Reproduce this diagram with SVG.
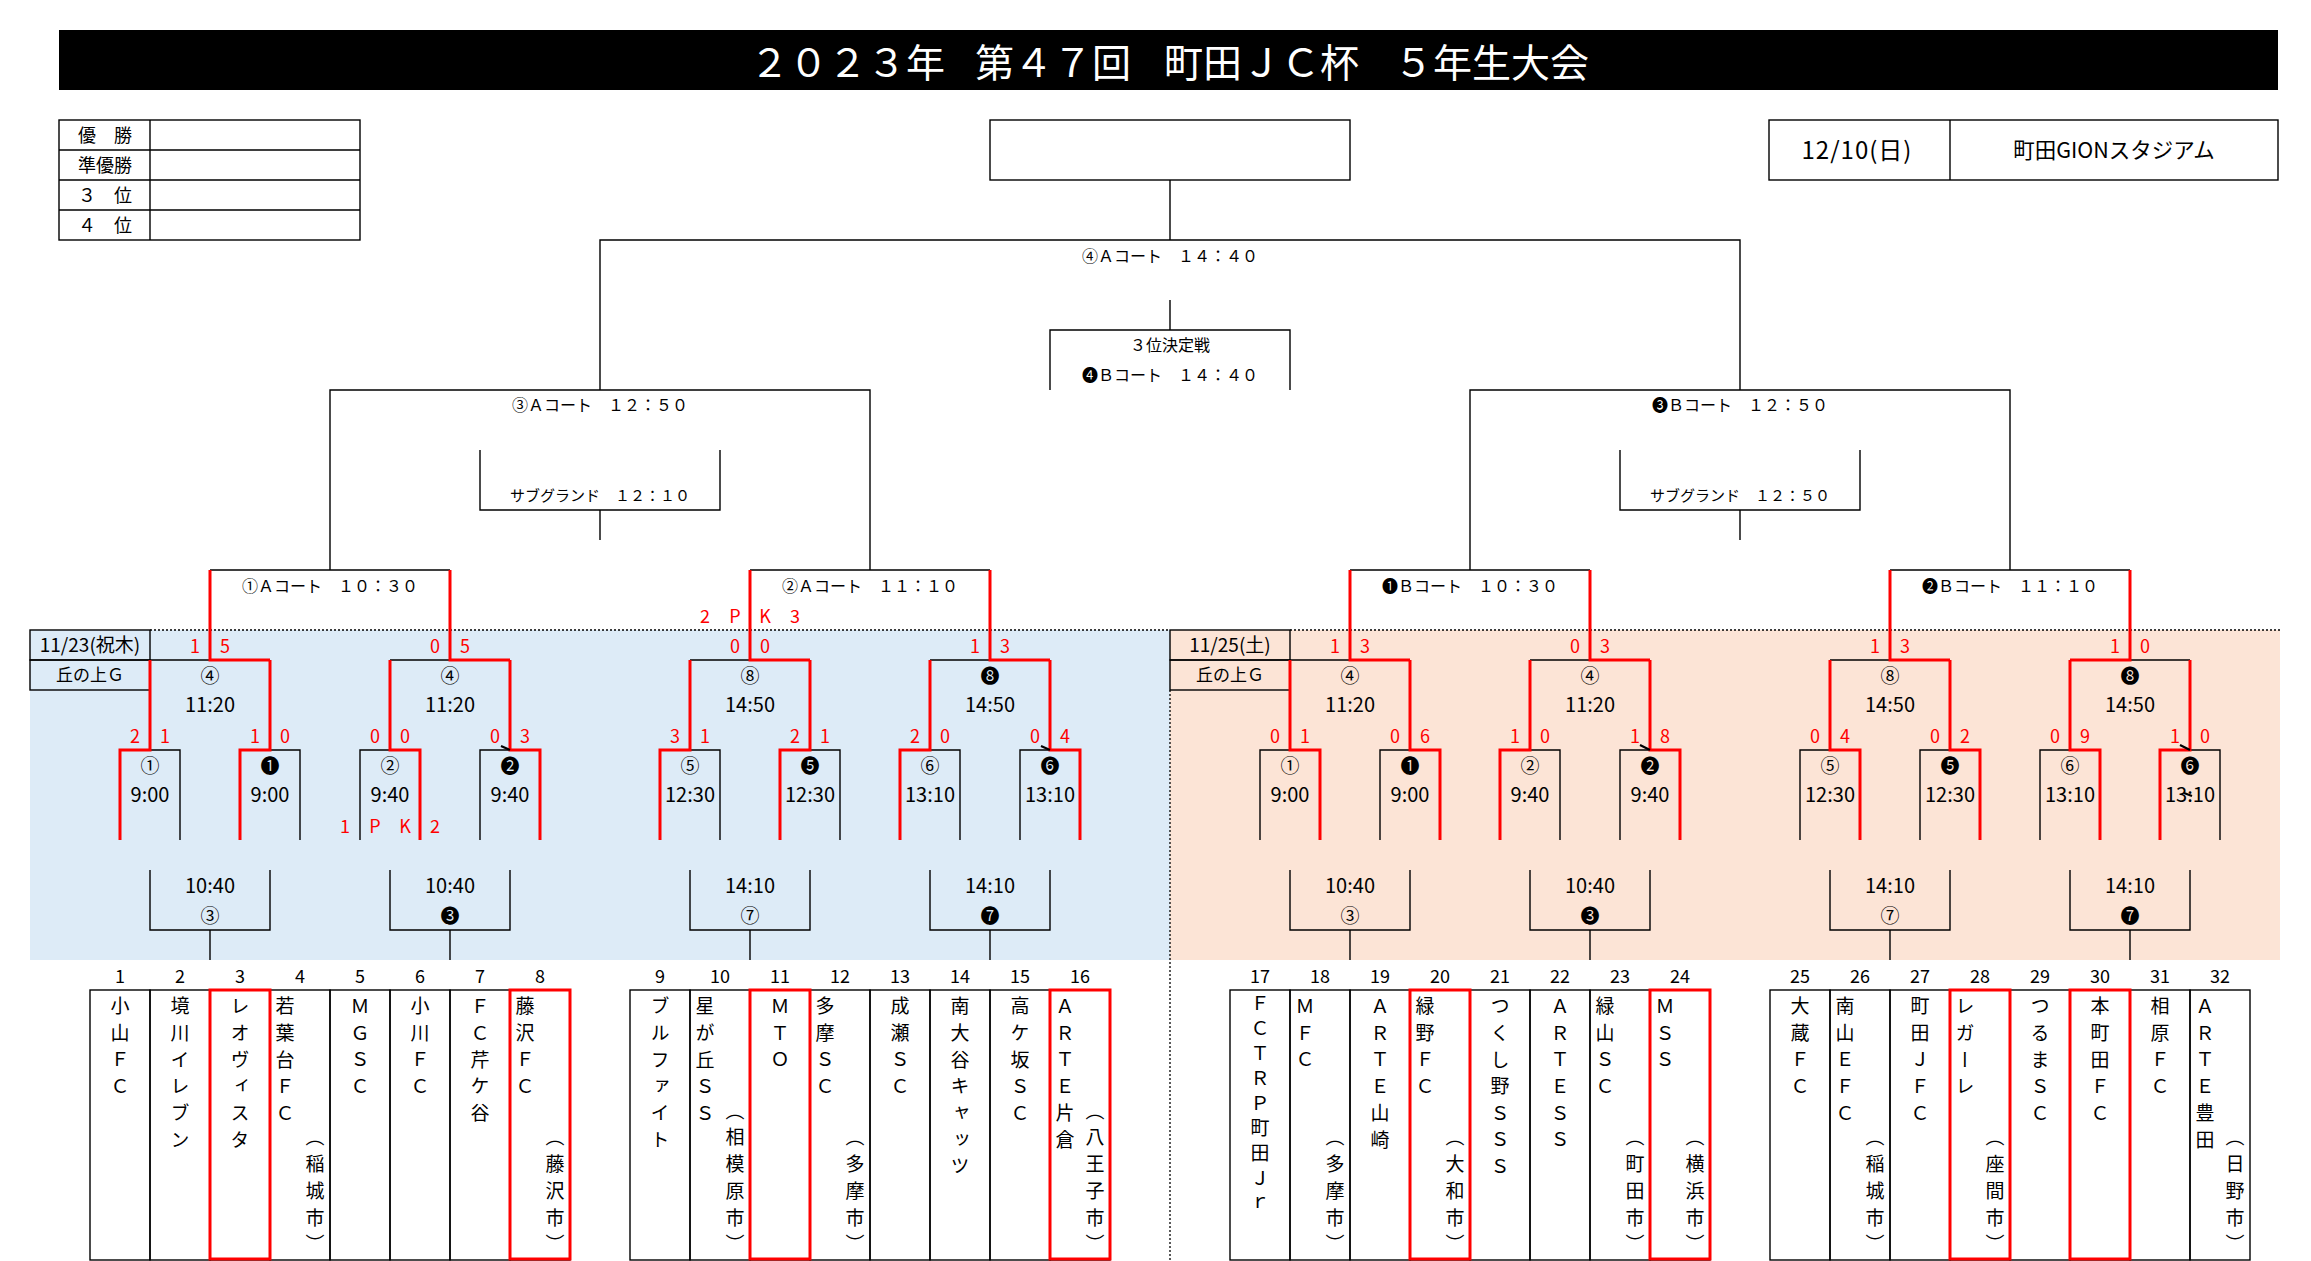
<svg xmlns="http://www.w3.org/2000/svg" width="2311" height="1261" viewBox="0 0 2311 1261">
<style>
text{font-family:"Noto Sans CJK JP","Noto Sans",sans-serif;fill:#000}
.bk{fill:none;stroke:#000;stroke-width:1.4}
.rd{fill:none;stroke:#f00;stroke-width:3}
.dot{fill:none;stroke:#000;stroke-width:1.3;stroke-dasharray:2 2}
.cell{fill:none;stroke:#000;stroke-width:1.4}
.win{fill:none;stroke:#f00;stroke-width:3}
.tick{stroke:#000;stroke-width:2.2}
.tm{font-size:20px;text-anchor:middle}
.ci{font-size:19px;text-anchor:middle}
.sc{font-size:18px;fill:#f00;text-anchor:middle}
.lb{font-size:16px;text-anchor:middle}
.sb{font-size:15px;text-anchor:middle}
.num{font-size:18px;text-anchor:middle}
.vt{font-size:19px;writing-mode:vertical-rl;letter-spacing:7.7px}
.vt9{font-size:19px;writing-mode:vertical-rl;letter-spacing:6px}
</style>
<rect width="2311" height="1261" fill="#fff"/>
<rect x="30" y="630" width="1140" height="330" fill="#DDEBF7"/>
<rect x="1170" y="630" width="1110" height="330" fill="#FCE4D6"/>

<g id="title">
<rect x="59" y="30" width="2219" height="60" fill="#000"/>
<text y="77" style="font-size:39px;fill:#fff"><tspan x="750">２０２３年 </tspan><tspan x="975">第４７回 </tspan><tspan x="1164">町田ＪＣ杯 </tspan><tspan x="1394">５年生大会</tspan></text>
</g>

<g id="results">
<rect class="cell" x="59" y="120" width="301" height="120"/>
<path class="bk" d="M59,150H360M59,180H360M59,210H360M150,120V240"/>
<text x="105" y="141.5" style="font-size:18px;text-anchor:middle">優　勝</text>
<text x="105" y="171.5" style="font-size:18px;text-anchor:middle">準優勝</text>
<text x="105" y="201.5" style="font-size:18px;text-anchor:middle">３　位</text>
<text x="105" y="231.5" style="font-size:18px;text-anchor:middle">４　位</text>
</g>

<g id="final">
<rect class="cell" x="990" y="120" width="360" height="60"/>
</g>

<g id="venue">
<rect class="cell" x="1769" y="120" width="509" height="60"/>
<path class="bk" d="M1950,120V180"/>
<text x="1857" y="159" style="font-size:24px;letter-spacing:1px;text-anchor:middle">12/10(日)</text>
<text x="2114" y="158" style="font-size:21.5px;text-anchor:middle">町田GIONスタジアム</text>
</g>

<g id="day1">
<rect class="cell" x="30" y="630" width="120" height="30"/>
<rect class="cell" x="30" y="660" width="120" height="30"/>
<text x="90" y="652" style="font-size:19px;text-anchor:middle">11/23(祝木)</text>
<text x="90" y="681" style="font-size:17px;text-anchor:middle">丘の上Ｇ</text>
</g>
<g id="day2">
<rect class="cell" x="1170" y="630" width="120" height="30"/>
<rect class="cell" x="1170" y="660" width="120" height="30"/>
<text x="1230" y="652" style="font-size:19px;text-anchor:middle">11/25(土)</text>
<text x="1230" y="681" style="font-size:17px;text-anchor:middle">丘の上Ｇ</text>
</g>

<g id="connectors">
<path class="dot" d="M150,630H1170M1290,630H2280M1170,690V1260"/>
<path class="bk" d="M1170,180V240M600,390V240H1740V390"/>
<path class="bk" d="M1170,300V330M1050,390V330H1290V390"/>
<path class="bk" d="M330,570V390H870V570M1470,570V390H2010V570"/>
<path class="bk" d="M480,450V510H720V450M600,510V540M1620,450V510H1860V450M1740,510V540"/>
<path class="bk" d="M210,570H450M750,570H990M1350,570H1590M1890,570H2130"/>
<path class="bk" d="M180,840V750H150M300,840V750H270M360,840V750H390M480,840V750H510M150,660H210M390,660H450"/>
<path class="bk" d="M720,840V750H690M840,840V750H810M960,840V750H930M1020,840V750H1050M690,660H750M930,660H990"/>
<path class="bk" d="M1260,840V750H1290M1380,840V750H1410M1560,840V750H1530M1620,840V750H1650M1290,660H1350M1530,660H1590"/>
<path class="bk" d="M1800,840V750H1830M1920,840V750H1950M2040,840V750H2070M2220,840V750H2190M1830,660H1890M2190,660H2130"/>
<path class="bk" d="M150,870V930H270V870M210,930V960M390,870V930H510V870M450,930V960"/>
<path class="bk" d="M690,870V930H810V870M750,930V960M930,870V930H1050V870M990,930V960"/>
<path class="bk" d="M1290,870V930H1410V870M1350,930V960M1530,870V930H1650V870M1590,930V960"/>
<path class="bk" d="M1830,870V930H1950V870M1890,930V960M2070,870V930H2190V870M2130,930V960"/>
<path class="rd" d="M120,840V750H150V660M240,840V750H270V660M420,840V750H390V660M540,840V750H510V660M270,660H210V570M510,660H450V570"/>
<path class="rd" d="M660,840V750H690V660M780,840V750H810V660M900,840V750H930V660M1080,840V750H1050V660M810,660H750V570M1050,660H990V570"/>
<path class="rd" d="M1320,840V750H1290V660M1440,840V750H1410V660M1500,840V750H1530V660M1680,840V750H1650V660M1410,660H1350V570M1650,660H1590V570"/>
<path class="rd" d="M1860,840V750H1830V660M1980,840V750H1950V660M2100,840V750H2070V660M2160,840V750H2190V660M1950,660H1890V570M2070,660H2130V570"/>
<path class="tick" d="M501,746L510,750M1041,746L1050,750M1640,745L1650,750M2180,745L2190,750M2184,793L2192,796"/>
</g>

<g id="m-final"><text class="lb" x="1170" y="262">④Ａコート　１４：４０</text></g>
<g id="m-third"><text class="lb" x="1170" y="351">３位決定戦</text><text class="lb" x="1170" y="381">❹Ｂコート　１４：４０</text></g>
<g id="m-sf-a"><text class="lb" x="600" y="411">③Ａコート　１２：５０</text></g>
<g id="m-sf-b"><text class="lb" x="1740" y="411">❸Ｂコート　１２：５０</text></g>
<g id="m-sub-a"><text class="sb" x="600" y="501">サブグランド　１２：１０</text></g>
<g id="m-sub-b"><text class="sb" x="1740" y="501">サブグランド　１２：５０</text></g>
<g id="m-qf1"><text class="lb" x="330" y="592">①Ａコート　１０：３０</text></g>
<g id="m-qf2"><text class="lb" x="870" y="592">②Ａコート　１１：１０</text></g>
<g id="m-qf3"><text class="lb" x="1470" y="592">❶Ｂコート　１０：３０</text></g>
<g id="m-qf4"><text class="lb" x="2010" y="592">❷Ｂコート　１１：１０</text></g>

<g id="q1-r2a"><text class="ci" x="210" y="683">④</text><text class="tm" x="210" y="712">11:20</text><text class="sc" x="195 225" y="652.5">15</text></g>
<g id="q1-r2b"><text class="ci" x="450" y="683">④</text><text class="tm" x="450" y="712">11:20</text><text class="sc" x="435 465" y="652.5">05</text></g>
<g id="q1-r1a"><text class="ci" x="150" y="773">①</text><text class="tm" x="150" y="802">9:00</text><text class="sc" x="135 165" y="742.5">21</text></g>
<g id="q1-r1b"><text class="ci" x="270" y="773">❶</text><text class="tm" x="270" y="802">9:00</text><text class="sc" x="255 285" y="742.5">10</text></g>
<g id="q1-r1c"><text class="ci" x="390" y="773">②</text><text class="tm" x="390" y="802">9:40</text><text class="sc" x="375 405" y="742.5">00</text><text class="sc" x="345 375 405 435" y="832.5">1PK2</text></g>
<g id="q1-r1d"><text class="ci" x="510" y="773">❷</text><text class="tm" x="510" y="802">9:40</text><text class="sc" x="495 525" y="742.5">03</text></g>
<g id="q1-c1"><text class="tm" x="210" y="893">10:40</text><text class="ci" x="210" y="923">③</text></g>
<g id="q1-c2"><text class="tm" x="450" y="893">10:40</text><text class="ci" x="450" y="923">❸</text></g>

<g id="q2-r2a"><text class="ci" x="750" y="683">⑧</text><text class="tm" x="750" y="712">14:50</text><text class="sc" x="735 765" y="652.5">00</text><text class="sc" x="705 735 765 795" y="622.5">2PK3</text></g>
<g id="q2-r2b"><text class="ci" x="990" y="683">❽</text><text class="tm" x="990" y="712">14:50</text><text class="sc" x="975 1005" y="652.5">13</text></g>
<g id="q2-r1a"><text class="ci" x="690" y="773">⑤</text><text class="tm" x="690" y="802">12:30</text><text class="sc" x="675 705" y="742.5">31</text></g>
<g id="q2-r1b"><text class="ci" x="810" y="773">❺</text><text class="tm" x="810" y="802">12:30</text><text class="sc" x="795 825" y="742.5">21</text></g>
<g id="q2-r1c"><text class="ci" x="930" y="773">⑥</text><text class="tm" x="930" y="802">13:10</text><text class="sc" x="915 945" y="742.5">20</text></g>
<g id="q2-r1d"><text class="ci" x="1050" y="773">❻</text><text class="tm" x="1050" y="802">13:10</text><text class="sc" x="1035 1065" y="742.5">04</text></g>
<g id="q2-c1"><text class="tm" x="750" y="893">14:10</text><text class="ci" x="750" y="923">⑦</text></g>
<g id="q2-c2"><text class="tm" x="990" y="893">14:10</text><text class="ci" x="990" y="923">❼</text></g>

<g id="q3-r2a"><text class="ci" x="1350" y="683">④</text><text class="tm" x="1350" y="712">11:20</text><text class="sc" x="1335 1365" y="652.5">13</text></g>
<g id="q3-r2b"><text class="ci" x="1590" y="683">④</text><text class="tm" x="1590" y="712">11:20</text><text class="sc" x="1575 1605" y="652.5">03</text></g>
<g id="q3-r1a"><text class="ci" x="1290" y="773">①</text><text class="tm" x="1290" y="802">9:00</text><text class="sc" x="1275 1305" y="742.5">01</text></g>
<g id="q3-r1b"><text class="ci" x="1410" y="773">❶</text><text class="tm" x="1410" y="802">9:00</text><text class="sc" x="1395 1425" y="742.5">06</text></g>
<g id="q3-r1c"><text class="ci" x="1530" y="773">②</text><text class="tm" x="1530" y="802">9:40</text><text class="sc" x="1515 1545" y="742.5">10</text></g>
<g id="q3-r1d"><text class="ci" x="1650" y="773">❷</text><text class="tm" x="1650" y="802">9:40</text><text class="sc" x="1635 1665" y="742.5">18</text></g>
<g id="q3-c1"><text class="tm" x="1350" y="893">10:40</text><text class="ci" x="1350" y="923">③</text></g>
<g id="q3-c2"><text class="tm" x="1590" y="893">10:40</text><text class="ci" x="1590" y="923">❸</text></g>

<g id="q4-r2a"><text class="ci" x="1890" y="683">⑧</text><text class="tm" x="1890" y="712">14:50</text><text class="sc" x="1875 1905" y="652.5">13</text></g>
<g id="q4-r2b"><text class="ci" x="2130" y="683">❽</text><text class="tm" x="2130" y="712">14:50</text><text class="sc" x="2115 2145" y="652.5">10</text></g>
<g id="q4-r1a"><text class="ci" x="1830" y="773">⑤</text><text class="tm" x="1830" y="802">12:30</text><text class="sc" x="1815 1845" y="742.5">04</text></g>
<g id="q4-r1b"><text class="ci" x="1950" y="773">❺</text><text class="tm" x="1950" y="802">12:30</text><text class="sc" x="1935 1965" y="742.5">02</text></g>
<g id="q4-r1c"><text class="ci" x="2070" y="773">⑥</text><text class="tm" x="2070" y="802">13:10</text><text class="sc" x="2055 2085" y="742.5">09</text></g>
<g id="q4-r1d"><text class="ci" x="2190" y="773">❻</text><text class="tm" x="2190" y="802">13:10</text><text class="sc" x="2175 2205" y="742.5">10</text></g>
<g id="q4-c1"><text class="tm" x="1890" y="893">14:10</text><text class="ci" x="1890" y="923">⑦</text></g>
<g id="q4-c2"><text class="tm" x="2130" y="893">14:10</text><text class="ci" x="2130" y="923">❼</text></g>

<g id="team-1"><text class="num" x="120" y="982.5">1</text><rect class="cell" x="90" y="990" width="60" height="270"/><text class="vt" x="120" y="996.5">小山ＦＣ</text></g>
<g id="team-2"><text class="num" x="180" y="982.5">2</text><rect class="cell" x="150" y="990" width="60" height="270"/><text class="vt" x="180" y="996.5">境川イレブン</text></g>
<g id="team-3"><text class="num" x="240" y="982.5">3</text><rect class="cell" x="210" y="990" width="60" height="270"/><text class="vt" x="240" y="996.5">レオヴィスタ</text></g>
<g id="team-4"><text class="num" x="300" y="982.5">4</text><rect class="cell" x="270" y="990" width="60" height="270"/><text class="vt" x="285" y="996.5">若葉台ＦＣ</text><text class="vt" x="315" y="1127.7">（稲城市）</text></g>
<g id="team-5"><text class="num" x="360" y="982.5">5</text><rect class="cell" x="330" y="990" width="60" height="270"/><text class="vt" x="360" y="996.5">ＭＧＳＣ</text></g>
<g id="team-6"><text class="num" x="420" y="982.5">6</text><rect class="cell" x="390" y="990" width="60" height="270"/><text class="vt" x="420" y="996.5">小川ＦＣ</text></g>
<g id="team-7"><text class="num" x="480" y="982.5">7</text><rect class="cell" x="450" y="990" width="60" height="270"/><text class="vt" x="480" y="996.5">ＦＣ芹ケ谷</text></g>
<g id="team-8"><text class="num" x="540" y="982.5">8</text><rect class="cell" x="510" y="990" width="60" height="270"/><text class="vt" x="525" y="996.5">藤沢ＦＣ</text><text class="vt" x="555" y="1127.7">（藤沢市）</text></g>

<g id="team-9"><text class="num" x="660" y="982.5">9</text><rect class="cell" x="630" y="990" width="60" height="270"/><text class="vt" x="660" y="996.5">ブルファイト</text></g>
<g id="team-10"><text class="num" x="720" y="982.5">10</text><rect class="cell" x="690" y="990" width="60" height="270"/><text class="vt" x="705" y="996.5">星が丘ＳＳ</text><text class="vt" x="735" y="1101">（相模原市）</text></g>
<g id="team-11"><text class="num" x="780" y="982.5">11</text><rect class="cell" x="750" y="990" width="60" height="270"/><text class="vt" x="780" y="996.5">ＭＴＯ</text></g>
<g id="team-12"><text class="num" x="840" y="982.5">12</text><rect class="cell" x="810" y="990" width="60" height="270"/><text class="vt" x="825" y="996.5">多摩ＳＣ</text><text class="vt" x="855" y="1127.7">（多摩市）</text></g>
<g id="team-13"><text class="num" x="900" y="982.5">13</text><rect class="cell" x="870" y="990" width="60" height="270"/><text class="vt" x="900" y="996.5">成瀬ＳＣ</text></g>
<g id="team-14"><text class="num" x="960" y="982.5">14</text><rect class="cell" x="930" y="990" width="60" height="270"/><text class="vt" x="960" y="996.5">南大谷キャッツ</text></g>
<g id="team-15"><text class="num" x="1020" y="982.5">15</text><rect class="cell" x="990" y="990" width="60" height="270"/><text class="vt" x="1020" y="996.5">高ケ坂ＳＣ</text></g>
<g id="team-16"><text class="num" x="1080" y="982.5">16</text><rect class="cell" x="1050" y="990" width="60" height="270"/><text class="vt" x="1065" y="996.5">ＡＲＴＥ片倉</text><text class="vt" x="1095" y="1101">（八王子市）</text></g>

<g id="team-17"><text class="num" x="1260" y="982.5">17</text><rect class="cell" x="1230" y="990" width="60" height="270"/><text class="vt9" x="1260" y="993.5">ＦＣＴＲＰ町田Ｊｒ</text></g>
<g id="team-18"><text class="num" x="1320" y="982.5">18</text><rect class="cell" x="1290" y="990" width="60" height="270"/><text class="vt" x="1305" y="996.5">ＭＦＣ</text><text class="vt" x="1335" y="1127.7">（多摩市）</text></g>
<g id="team-19"><text class="num" x="1380" y="982.5">19</text><rect class="cell" x="1350" y="990" width="60" height="270"/><text class="vt" x="1380" y="996.5">ＡＲＴＥ山崎</text></g>
<g id="team-20"><text class="num" x="1440" y="982.5">20</text><rect class="cell" x="1410" y="990" width="60" height="270"/><text class="vt" x="1425" y="996.5">緑野ＦＣ</text><text class="vt" x="1455" y="1127.7">（大和市）</text></g>
<g id="team-21"><text class="num" x="1500" y="982.5">21</text><rect class="cell" x="1470" y="990" width="60" height="270"/><text class="vt" x="1500" y="996.5">つくし野ＳＳＳ</text></g>
<g id="team-22"><text class="num" x="1560" y="982.5">22</text><rect class="cell" x="1530" y="990" width="60" height="270"/><text class="vt" x="1560" y="996.5">ＡＲＴＥＳＳ</text></g>
<g id="team-23"><text class="num" x="1620" y="982.5">23</text><rect class="cell" x="1590" y="990" width="60" height="270"/><text class="vt" x="1605" y="996.5">緑山ＳＣ</text><text class="vt" x="1635" y="1127.7">（町田市）</text></g>
<g id="team-24"><text class="num" x="1680" y="982.5">24</text><rect class="cell" x="1650" y="990" width="60" height="270"/><text class="vt" x="1665" y="996.5">ＭＳＳ</text><text class="vt" x="1695" y="1127.7">（横浜市）</text></g>

<g id="team-25"><text class="num" x="1800" y="982.5">25</text><rect class="cell" x="1770" y="990" width="60" height="270"/><text class="vt" x="1800" y="996.5">大蔵ＦＣ</text></g>
<g id="team-26"><text class="num" x="1860" y="982.5">26</text><rect class="cell" x="1830" y="990" width="60" height="270"/><text class="vt" x="1845" y="996.5">南山ＥＦＣ</text><text class="vt" x="1875" y="1127.7">（稲城市）</text></g>
<g id="team-27"><text class="num" x="1920" y="982.5">27</text><rect class="cell" x="1890" y="990" width="60" height="270"/><text class="vt" x="1920" y="996.5">町田ＪＦＣ</text></g>
<g id="team-28"><text class="num" x="1980" y="982.5">28</text><rect class="cell" x="1950" y="990" width="60" height="270"/><text class="vt" x="1965" y="996.5">レガーレ</text><text class="vt" x="1995" y="1127.7">（座間市）</text></g>
<g id="team-29"><text class="num" x="2040" y="982.5">29</text><rect class="cell" x="2010" y="990" width="60" height="270"/><text class="vt" x="2040" y="996.5">つるまＳＣ</text></g>
<g id="team-30"><text class="num" x="2100" y="982.5">30</text><rect class="cell" x="2070" y="990" width="60" height="270"/><text class="vt" x="2100" y="996.5">本町田ＦＣ</text></g>
<g id="team-31"><text class="num" x="2160" y="982.5">31</text><rect class="cell" x="2130" y="990" width="60" height="270"/><text class="vt" x="2160" y="996.5">相原ＦＣ</text></g>
<g id="team-32"><text class="num" x="2220" y="982.5">32</text><rect class="cell" x="2190" y="990" width="60" height="270"/><text class="vt" x="2205" y="996.5">ＡＲＴＥ豊田</text><text class="vt" x="2235" y="1127.7">（日野市）</text></g>

<g id="advancers">
<rect class="win" x="210" y="990" width="60" height="269"/>
<rect class="win" x="510" y="990" width="60" height="269"/>
<rect class="win" x="750" y="990" width="60" height="269"/>
<rect class="win" x="1050" y="990" width="60" height="269"/>
<rect class="win" x="1410" y="990" width="60" height="269"/>
<rect class="win" x="1650" y="990" width="60" height="269"/>
<rect class="win" x="1950" y="990" width="60" height="269"/>
<rect class="win" x="2070" y="990" width="60" height="269"/>
</g>
</svg>
